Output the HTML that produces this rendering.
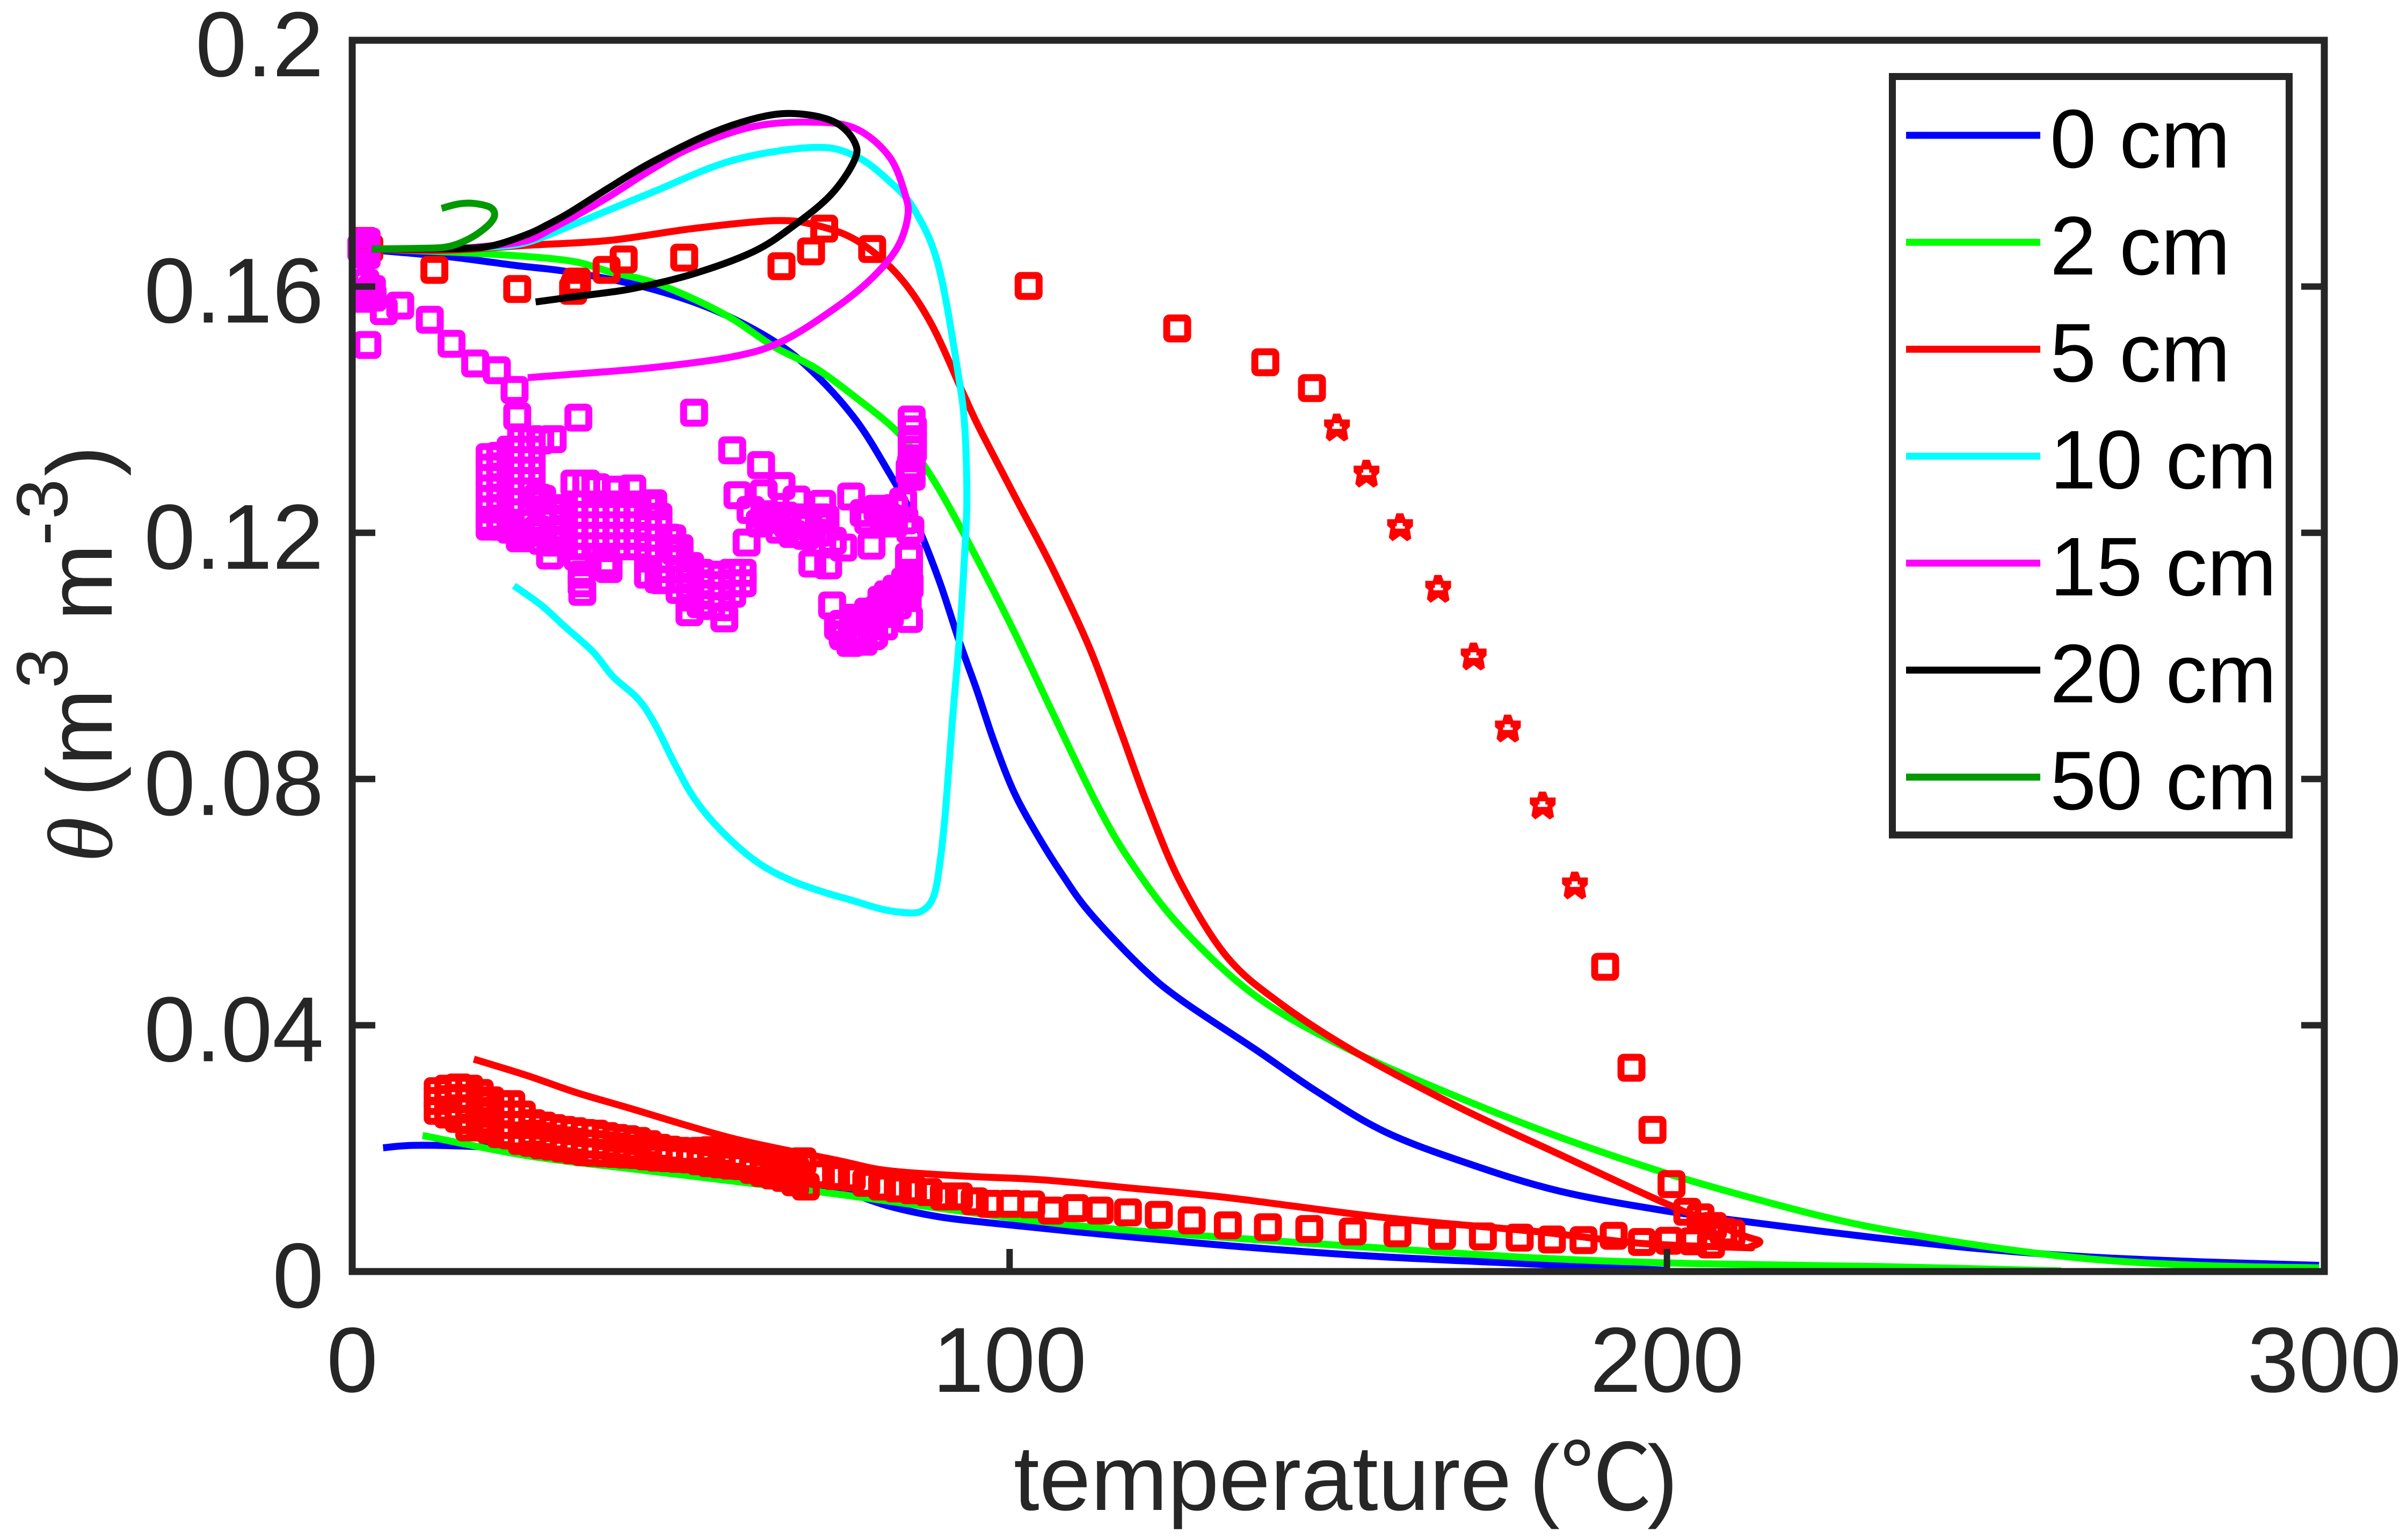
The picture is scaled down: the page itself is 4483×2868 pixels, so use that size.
<!DOCTYPE html>
<html lang="en">
<head>
<meta charset="utf-8">
<title>Soil water content versus temperature</title>
<style>
html,body{margin:0;padding:0;background:#fff;width:4483px;height:2868px;overflow:hidden}
svg{display:block;font-family:"Liberation Sans","Noto Sans CJK SC",sans-serif}
</style>
</head>
<body>
<svg id="chart" xmlns="http://www.w3.org/2000/svg" width="4483" height="2868" viewBox="0 0 4483 2868">
  <rect x="0" y="0" width="4483" height="2868" fill="#fff"/>
  <g id="marks"></g>
  <g id="axes" stroke="#262626" fill="none" stroke-width="13"></g>
  <g id="tick-labels" fill="#262626" font-size="172"></g>
  <text y="2812" font-size="172" fill="#262626"><tspan x="1888">temperature</tspan><tspan x="2848">(</tspan><tspan x="2905" font-family="'Noto Sans CJK SC',sans-serif">℃</tspan><tspan x="3068">)</tspan></text>
  <text transform="translate(208,1606) rotate(-90)" font-size="172" fill="#262626"><tspan x="0" y="0" font-family="'Liberation Serif',serif" font-style="italic">θ</tspan><tspan x="122" y="0">(</tspan><tspan x="180" y="0">m</tspan><tspan x="324" y="-83" font-size="135">3</tspan><tspan x="450" y="0">m</tspan><tspan x="590" y="-83" font-size="135">-</tspan><tspan x="639" y="-83" font-size="135">3</tspan><tspan x="719" y="0">)</tspan></text>
  <g id="legend">
    <rect x="3524.5" y="142.5" width="739" height="1412.5" fill="#fff" stroke="#262626" stroke-width="13"/>
  </g>
</svg>
<script>
// Axis ranges and tick labels
const xDomain = [0, 300];
const yDomain = [0, 0.2];
const xTicks = [0, 100, 200, 300];
const xTickLabels = ['0', '100', '200', '300'];
const yTicks = [0, 0.04, 0.08, 0.12, 0.16, 0.2];
const yTickLabels = ['0', '0.04', '0.08', '0.12', '0.16', '0.2'];
const legendLabels = ['0 cm', '2 cm', '5 cm', '10 cm', '15 cm', '20 cm', '50 cm'];

// Simulated curves: [temperature, theta]
const depth0Heating = [[3,.1661],[4.8,.1658],[15,.1648],[25,.1634],[32.9,.1624],[44.2,.16],[54.8,.1563],[64.2,.1511],[70.4,.1458],[76.7,.1382],[81.7,.1297],[85.5,.1223],[89.2,.1125],[92.3,.1025],[95,.0945],[97.6,.0862],[100.7,.0778],[104.4,.0706],[108,.0645],[112.2,.0583],[120,.0495],[126.1,.0441],[137.5,.036],[146.8,.0292],[157.1,.0227],[169.6,.0176],[183.5,.0131],[199.5,.0099],[212,.0081],[229.3,.0058],[246.5,.0038],[263.7,.0024],[280.8,.0016],[299.2,.001]];
const depth0Cooling = [[4.7,.0201],[9.5,.0205],[18.9,.0203],[27.9,.0197],[45,.018],[60,.0158],[69,.0142],[73.6,.0135],[81.4,.0107],[89.2,.0089],[97,.0079],[109.8,.0065],[133.2,.0042],[156.7,.0024],[186.4,.0009],[200,.0002]];
const depth2Heating = [[3,.1661],[20.4,.1653],[32.9,.1642],[39.2,.1624],[45.4,.1608],[51.7,.1581],[57.9,.1547],[64.2,.1502],[70.4,.1468],[76.7,.1419],[83.1,.1362],[87.7,.1298],[92.9,.1201],[100.2,.105],[106.4,.0911],[113.2,.0761],[118.4,.0666],[126.1,.0559],[137.5,.0447],[151.4,.0362],[168.5,.0282],[183.5,.0219],[199.5,.0161],[215.5,.0112],[229.3,.0076],[246.5,.0044],[263.7,.0021],[280.8,.001],[299.2,.0006]];
const depth2Cooling = [[10.7,.0221],[26.7,.0188],[42.3,.0167],[57.9,.0147],[73.6,.0126],[89.2,.0103],[109.8,.0075],[133.2,.0055],[156.7,.0038],[180.1,.0022],[203.5,.0013],[232.3,.0008],[260,.0001]];
const depth5Curve = [[3,.1661],[14.2,.1659],[26.7,.1667],[39.2,.1675],[51.7,.1694],[64.2,.1707],[70.4,.17],[76.7,.1675],[82.9,.162],[88,.1541],[93,.1425],[95.5,.1368],[101.2,.1251],[106.4,.1145],[112.2,.1012],[116.9,.0878],[121.1,.0755],[126.1,.063],[133,.0512],[141,.0437],[152.5,.0357],[168.5,.0266],[183.5,.0191],[199.5,.0112],[211,.0061],[214.1,.0049],[212.6,.004],[211.4,.0039],[195.8,.0046],[180.1,.0065],[156.7,.0088],[133.2,.012],[118,.0136],[104.9,.0149],[93.1,.0155],[81.4,.0164],[73.6,.0181],[58,.0216],[42.3,.0265],[34,.0291],[26.7,.0318],[18.5,.0345]];
const depth10Curve = [[3,.1661],[15,.1662],[21,.1664],[26.7,.1672],[34.2,.1703],[45.4,.1752],[57.9,.1805],[70.4,.1826],[76.7,.1811],[81.7,.1771],[85.5,.1725],[89.2,.1633],[92.3,.145],[93.2,.1368],[93.5,.1256],[93.2,.1173],[92.4,.1034],[91.3,.0895],[90.3,.0755],[89.5,.0672],[88.5,.0611],[86.7,.0586],[84.1,.0583],[80.4,.0589],[75.7,.0604],[72.1,.0615],[66.8,.0635],[61.6,.0665],[56.4,.0713],[52.2,.0766],[49.1,.0824],[46,.089],[43.4,.0931],[39.7,.0966],[36.6,.1007],[32.4,.1047],[28.8,.1082],[24.6,.1114]];
const depth15Curve = [[3,.1661],[15,.1662],[21,.1666],[26.7,.1675],[30.5,.1695],[34.2,.1716],[39.2,.1747],[45.4,.1789],[51.7,.1826],[61.1,.186],[70.4,.1867],[76.7,.1856],[81.7,.1811],[84.1,.175],[84.5,.1713],[82.9,.1663],[79.1,.1614],[73.6,.1566],[65.4,.1511],[57.9,.1486],[45.4,.1468],[32.9,.1457],[26.7,.1452]];
const depth20Curve = [[3,.1661],[10,.1661],[17.3,.1662],[21.6,.1667],[26.7,.1685],[29.8,.1701],[32.9,.1719],[39,.176],[45.4,.1801],[54.8,.185],[62.9,.1877],[68.5,.188],[73.6,.1866],[76.4,.1835],[76.4,.1805],[72.9,.175],[67.3,.17],[61.1,.1657],[51.7,.162],[42.3,.1596],[34.2,.1584],[27.9,.1575]];
const depth50Curve = [[3,.1661],[10,.1662],[14.2,.1664],[17.3,.1675],[20.1,.1694],[21.6,.1713],[21.1,.1728],[18.5,.1735],[16.1,.1734],[13.6,.1727]];

// Observed values: [temperature, theta]
const redSquaresEvaporation = [[1.4,.1662],[2.6,.1662],[1.9,.1674],[1.9,.1652],[12.5,.1627],[25.1,.1596],[34.2,.1608],[33.9,.16],[33.6,.1593],[38.7,.1627],[41.3,.1644],[50.5,.1647],[65.3,.1633],[69.8,.1657],[71.8,.1694],[79.1,.1661],[102.9,.1601],[125.5,.1532],[138.9,.1477],[146,.1435],[190.6,.0495],[194.6,.0331],[197.8,.023],[200.7,.0142],[203.1,.0097],[205.1,.0088],[207,.0074],[208.6,.0065],[209.8,.0062]];
const redStars = [[149.8,.137],[154.3,.1295],[159.4,.1208],[165.2,.1108],[170.6,.0998],[175.8,.0881],[181.1,.0756],[186,.0626]];
const redSquaresCooling = [[206.7,.0044],[204,.0049],[200.3,.005],[196.2,.0048],[191.9,.0058],[187.3,.0051],[182.5,.0052],[177.6,.0055],[172,.0057],[165.8,.0058],[159,.0062],[152.2,.0065],[145.6,.0069],[139.3,.0072],[133.2,.0075],[127.7,.0083],[122.7,.0092],[118,.0096],[113.7,.0099],[110,.0103],[106.4,.0099],[103.3,.0109],[100.1,.011],[97,.011],[94.7,.0114],[92.3,.0122],[90,.0122],[87.7,.0129],[85.3,.0132],[83,.0135],[80.6,.0138],[78.2,.0144],[76,.0153],[73.6,.0155],[71.3,.0158],[69,.0138],[68.5,.0179]];
const redSquaresUpperBand = [[13,.0293],[14.6,.0297],[16.2,.0299],[17.8,.0297],[19.4,.029],[21,.0278],[22.6,.0272],[24.2,.0272],[25.8,.0255],[27.4,.0241],[29,.0237],[30.6,.0233],[32.2,.023],[33.8,.0228],[35.4,.0225],[37,.0224],[38.6,.022],[40.2,.0217],[41.8,.0215],[43.4,.0212],[45,.0207],[46.6,.0201],[48.2,.0198],[49.8,.0196],[51.4,.0195],[53,.0196],[54.6,.0197],[56.2,.0193],[57.8,.0188],[59.4,.0184],[61,.0182],[62.6,.0179],[64.2,.0176],[65.8,.0173],[67.4,.0165]];
const redSquaresMiddleBand = [[13,.0277],[14.6,.028],[14.6,.0263],[16.2,.0282],[16.2,.0265],[17.8,.028],[17.8,.0263],[17.8,.0246],[19.4,.0273],[19.4,.0256],[21,.0261],[21,.0244],[22.6,.0255],[22.6,.0238],[24.2,.0255],[24.2,.0238],[25.8,.0238],[25.8,.0221],[27.4,.0224],[29,.022],[30.6,.0216],[32.2,.0213],[33.8,.0211],[35.4,.0208],[37,.0207],[38.6,.0205],[40.2,.0203],[41.8,.02],[43.4,.0199],[45,.0194],[46.6,.0192],[48.2,.0188],[49.8,.0186],[51.4,.0186],[53,.0186],[54.6,.0186],[56.2,.0183],[57.8,.0179],[59.4,.0175],[61,.0172],[62.6,.017],[64.2,.0165],[65.8,.0162],[67.4,.0155]];
const redSquaresLowerBand = [[13,.0261],[14.6,.0255],[16.2,.0248],[17.8,.0234],[19.4,.0239],[21,.023],[22.6,.0223],[24.2,.0221],[25.8,.0212],[27.4,.0209],[29,.0205],[30.6,.0203],[32.2,.02],[33.8,.0197],[35.4,.0194],[37,.0193],[38.6,.0192],[40.2,.0191],[41.8,.019],[43.4,.0189],[45,.0187],[46.6,.0185],[48.2,.0184],[49.8,.0183],[51.4,.0182],[53,.0179],[54.6,.0176],[56.2,.0174],[57.8,.0172],[59.4,.0171],[61,.0165],[62.6,.016],[64.2,.0156],[65.8,.0152],[67.4,.0145]];
const magentaSquaresStart = [[1.7,.1668],[1.7,.1656],[1.4,.1662],[2.2,.1673],[2.2,.1651],[2,.1606],[3,.1596],[2.6,.1588],[3.1,.1582],[1.8,.158],[2.3,.1505],[7.3,.1569],[4.8,.156],[11.8,.1546],[15.1,.1507],[18.7,.1475],[22,.1464],[24.7,.1432],[25.1,.1389]];
const magentaSquaresScattered = [[34.4,.1387],[52,.1395],[57.8,.1334],[62.2,.131],[65.3,.1276],[58.6,.1261],[62.6,.1264],[67.6,.1254],[71.5,.1247],[75.9,.1259],[79.9,.1239],[83.8,.1251],[85.1,.1384],[85.3,.1368],[85.3,.1352],[85.1,.1347],[85.3,.1335],[85.1,.1321],[85,.1308],[84.8,.13],[85.1,.1291],[77.8,.1232],[81.8,.1224],[84.9,.1205],[60.6,.1237],[62.7,.123],[65.8,.1228],[68.9,.1211],[72,.1222],[73.1,.1187],[74.7,.1176],[79,.1179],[60,.1184],[70,.115],[72.4,.1147],[84.7,.1161],[84.7,.1135],[84.1,.1121],[82.8,.1109],[81.5,.11],[80.5,.1091],[73,.1082],[84.7,.106],[81.8,.1068],[79.4,.106],[76.5,.1062],[73.9,.1048],[74.7,.1032],[77.3,.1027],[75.8,.1021],[79.1,.1032],[76,.1036],[80.9,.1048]];
const magentaSquaresRightFill = [[63,.1225],[64.6,.1222],[66.2,.1215],[67.8,.1225],[69.4,.1215],[71,.1225],[62,.1215],[65,.1205],[67,.1198],[69,.1195],[71,.12],[80.8,.1225],[82.4,.1215],[84,.122],[81,.1235],[82.5,.124],[78.5,.122],[74.6,.1052],[74.6,.1035],[76.2,.1057],[76.2,.104],[76.2,.1023],[77.8,.1057],[77.8,.104],[77.8,.1023],[79.4,.1052],[79.4,.1035],[81,.1085],[82.5,.1095],[84,.1105],[84.8,.1115],[83,.1082],[84.5,.1095],[80,.1075],[78.5,.1072]];
const magentaSquaresLeftBlock = [[20.9,.1323],[20.9,.1306],[20.9,.1289],[20.9,.1272],[20.9,.1255],[20.9,.1238],[20.9,.1221],[20.9,.121],[22.5,.1325],[22.5,.1308],[22.5,.1291],[22.5,.1274],[22.5,.1257],[22.5,.124],[22.5,.1223],[22.5,.121],[24.1,.1335],[24.1,.1318],[24.1,.1301],[24.1,.1284],[24.1,.1267],[24.1,.125],[24.1,.1233],[24.1,.1216],[24.1,.1205],[25.7,.1352],[25.7,.1335],[25.7,.1318],[25.7,.1301],[25.7,.1284],[25.7,.1267],[25.7,.125],[25.7,.1233],[25.7,.1216],[25.7,.12],[27.3,.1352],[27.3,.1335],[27.3,.1318],[27.3,.1301],[27.3,.1284],[27.3,.1267],[27.3,.125],[27.3,.1233],[27.3,.1216],[27.3,.12],[28.9,.1255],[28.9,.1238],[28.9,.1221],[28.9,.1204],[28.9,.1187],[30.5,.1352],[28.6,.135],[28.3,.1257],[25.5,.1191],[28.3,.1205],[30.1,.1163],[34.3,.1161],[34.9,.1132],[35,.1104],[34.9,.1118],[39,.1141],[38.5,.1152]];
const magentaSquaresCentreBlock = [[33.8,.128],[35.6,.128],[37.2,.1274],[40.1,.127],[42.6,.1272],[45.8,.1248],[30.5,.1235],[30.5,.1218],[30.5,.1201],[30.5,.1184],[32.2,.124],[32.2,.1223],[32.2,.1206],[32.2,.1189],[33.8,.1246],[33.8,.1229],[33.8,.1212],[33.8,.1195],[33.8,.1178],[35.4,.1246],[35.4,.1229],[35.4,.1212],[35.4,.1195],[35.4,.1178],[37,.1246],[37,.1229],[37,.1212],[37,.1195],[37,.1178],[38.6,.1246],[38.6,.1229],[38.6,.1212],[38.6,.1195],[38.6,.1178],[40.2,.1246],[40.2,.1229],[40.2,.1212],[40.2,.1195],[40.2,.1178],[41.8,.1246],[41.8,.1229],[41.8,.1212],[41.8,.1195],[41.8,.1178],[43.4,.1246],[43.4,.1229],[43.4,.1212],[43.4,.1195],[43.4,.1178],[45,.1243],[45,.1226],[45,.1209],[45,.1192],[45,.1175],[45,.1158]];
const magentaSquaresLowerBlock = [[46.6,.1226],[46.6,.1209],[46.6,.1192],[46.6,.1175],[46.6,.1158],[46.6,.1141],[46.6,.1124],[48.2,.1192],[48.2,.1175],[48.2,.1158],[48.2,.1141],[48.2,.1124],[49.8,.1175],[49.8,.1158],[49.8,.1141],[49.8,.1124],[49.8,.1107],[51.4,.1146],[51.4,.1129],[51.4,.1112],[51.4,.1095],[53,.1135],[53,.1118],[53,.1101],[53,.1084],[54.6,.1132],[54.6,.1115],[54.6,.1098],[54.6,.1081],[56.2,.113],[56.2,.1113],[56.2,.1096],[56.2,.1079],[57.8,.1135],[57.8,.1118],[57.8,.1101],[59.4,.1135],[59.4,.1118],[48.7,.1191],[45,.1132],[47.1,.1123],[51.3,.1071],[56.6,.1061],[49.2,.117]];

// Axis functions
const plotLeft = 656, plotRight = 4329, plotTop = 75, plotBottom = 2368;
function xScale(v) { return plotLeft + (v - xDomain[0]) / (xDomain[1] - xDomain[0]) * (plotRight - plotLeft); }
function yScale(v) { return plotBottom - (v - yDomain[0]) / (yDomain[1] - yDomain[0]) * (plotBottom - plotTop); }

const NS = 'http://www.w3.org/2000/svg';
const marks = document.getElementById('marks');
const axes = document.getElementById('axes');
const tickLabelGroup = document.getElementById('tick-labels');
const legend = document.getElementById('legend');

function curvePath(points) {
  const p = points.map(function (d) { return [xScale(d[0]), yScale(d[1])]; });
  let s = 'M' + p[0][0].toFixed(1) + ' ' + p[0][1].toFixed(1);
  for (let i = 0; i < p.length - 1; i++) {
    const a = p[Math.max(i - 1, 0)], b = p[i], c = p[i + 1], e = p[Math.min(i + 2, p.length - 1)];
    const c1x = b[0] + (c[0] - a[0]) / 6, c1y = b[1] + (c[1] - a[1]) / 6;
    const c2x = c[0] - (e[0] - b[0]) / 6, c2y = c[1] - (e[1] - b[1]) / 6;
    s += 'C' + c1x.toFixed(1) + ' ' + c1y.toFixed(1) + ' ' + c2x.toFixed(1) + ' ' + c2y.toFixed(1) + ' ' + c[0].toFixed(1) + ' ' + c[1].toFixed(1);
  }
  return s;
}

function addCurve(points, color, name) {
  const el = document.createElementNS(NS, 'path');
  el.setAttribute('d', curvePath(points));
  el.setAttribute('fill', 'none');
  el.setAttribute('stroke', color);
  el.setAttribute('stroke-width', '13');
  el.setAttribute('stroke-linejoin', 'round');
  
  
  marks.appendChild(el);
}

function addSquares(points, color) {
  const group = document.createElementNS(NS, 'g');
  
  
  points.forEach(function (d) {
    const el = document.createElementNS(NS, 'rect');
    el.setAttribute('x', (xScale(d[0]) - 19.5).toFixed(1));
    el.setAttribute('y', (yScale(d[1]) - 19.5).toFixed(1));
    el.setAttribute('width', '39');
    el.setAttribute('height', '39');
    el.setAttribute('rx', '5');
    el.setAttribute('fill', 'none');
    el.setAttribute('stroke', color);
    el.setAttribute('stroke-width', '13');
    
    
    group.appendChild(el);
  });
  marks.appendChild(group);
}

function addStars(points, color) {
  const shape = 'M-7 -27L6 -27L10 -16L24 -16L24 -3L18 3L21 20L13 25L0 15L-14 25L-21 18L-18 1L-24 -4L-24 -16L-10 -16Z' +
                'M-6 -9L5 -9L5 -3L9 -3L9 1.5L-9 1.5L-9 -3L-6 -3Z';
  points.forEach(function (d) {
    const el = document.createElementNS(NS, 'path');
    el.setAttribute('d', shape);
    el.setAttribute('fill-rule', 'evenodd');
    el.setAttribute('fill', color);
    el.setAttribute('transform', 'translate(' + xScale(d[0]).toFixed(1) + ' ' + yScale(d[1]).toFixed(1) + ')');
    
    
    marks.appendChild(el);
  });
}

// Draw order follows the overlaps in the figure
addCurve(depth0Heating, '#0000ff', 'curve-0cm-heating');
addCurve(depth0Cooling, '#0000ff', 'curve-0cm-cooling');
addCurve(depth2Heating, '#00ff00', 'curve-2cm-heating');
addCurve(depth2Cooling, '#00ff00', 'curve-2cm-cooling');
addCurve(depth5Curve, '#ff0000', 'curve-5cm');
addSquares(redSquaresEvaporation, '#ff0000');
addStars(redStars, '#ff0000');
addSquares(redSquaresCooling, '#ff0000');
addSquares(redSquaresUpperBand, '#ff0000');
addSquares(redSquaresMiddleBand, '#ff0000');
addSquares(redSquaresLowerBand, '#ff0000');
addCurve(depth10Curve, '#00ffff', 'curve-10cm');
addSquares(magentaSquaresStart, '#ff00ff');
addSquares(magentaSquaresScattered, '#ff00ff');
addSquares(magentaSquaresRightFill, '#ff00ff');
addSquares(magentaSquaresLeftBlock, '#ff00ff');
addSquares(magentaSquaresCentreBlock, '#ff00ff');
addSquares(magentaSquaresLowerBlock, '#ff00ff');
addCurve(depth15Curve, '#ff00ff', 'curve-15cm');
addCurve(depth20Curve, '#000000', 'curve-20cm');
addCurve(depth50Curve, '#009900', 'curve-50cm');

// Axes box
const frame = document.createElementNS(NS, 'rect');
frame.setAttribute('x', plotLeft);
frame.setAttribute('y', plotTop);
frame.setAttribute('width', plotRight - plotLeft);
frame.setAttribute('height', plotBottom - plotTop);


axes.appendChild(frame);

function addTick(x1, y1, x2, y2) {
  const el = document.createElementNS(NS, 'line');
  el.setAttribute('x1', x1);
  el.setAttribute('y1', y1);
  el.setAttribute('x2', x2);
  el.setAttribute('y2', y2);
  el.setAttribute('stroke-width', '12');
  
  
  axes.appendChild(el);
}

xTicks.forEach(function (v, i) {
  const x = xScale(v);
  addTick(x, plotBottom, x, plotBottom - 42);
  const label = document.createElementNS(NS, 'text');
  label.setAttribute('x', x);
  label.setAttribute('y', 2592);
  label.setAttribute('text-anchor', 'middle');
  
  
  label.textContent = xTickLabels[i];
  tickLabelGroup.appendChild(label);
});

yTicks.forEach(function (v, i) {
  const y = yScale(v);
  addTick(plotLeft, y, plotLeft + 43, y);
  addTick(plotRight, y, plotRight - 43, y);
  const label = document.createElementNS(NS, 'text');
  label.setAttribute('x', 603);
  label.setAttribute('y', y + 67);
  label.setAttribute('text-anchor', 'end');
  
  
  label.textContent = yTickLabels[i];
  tickLabelGroup.appendChild(label);
});

// Legend entries
const legendColors = ['#0000ff', '#00ff00', '#ff0000', '#00ffff', '#ff00ff', '#000000', '#009900'];
legendLabels.forEach(function (text, i) {
  const y = 252 + i * 199.2;
  const swatch = document.createElementNS(NS, 'line');
  swatch.setAttribute('x1', 3550);
  swatch.setAttribute('x2', 3800);
  swatch.setAttribute('y1', y);
  swatch.setAttribute('y2', y);
  swatch.setAttribute('stroke', legendColors[i]);
  swatch.setAttribute('stroke-width', '13');
  
  
  legend.appendChild(swatch);
  const label = document.createElementNS(NS, 'text');
  label.setAttribute('x', 3818);
  label.setAttribute('y', y + 60);
  label.setAttribute('font-size', '155');
  label.setAttribute('fill', '#000');
  
  
  label.textContent = text;
  legend.appendChild(label);
});
</script>
</body>
</html>
